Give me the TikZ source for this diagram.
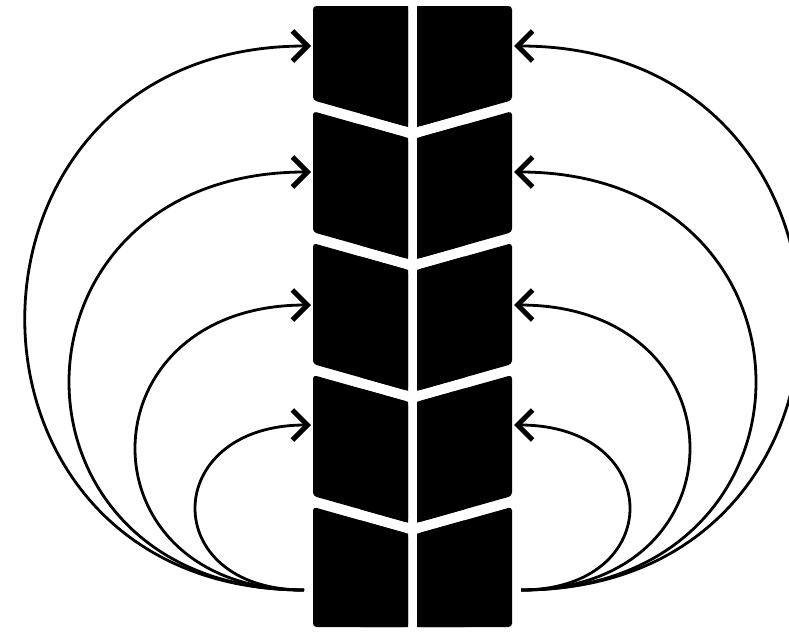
\documentclass[tikz,border=0pt]{standalone}
\usetikzlibrary{arrows.meta}
\tikzset{
  treadblock/.style={fill=black, rounded corners=3.5pt},
  treadsharp/.style={fill=black},
  flowarrow/.style={line width=2.8pt, -{Straight Barb[length=15pt,width=30pt,line width=5pt]}}
}
\begin{document}
\begin{tikzpicture}[x=1pt,y=-1pt]
\useasboundingbox (0,0) rectangle (789,632);
\clip (0,0) rectangle (789,632);
% tread blocks
\foreach \ta/\tb/\ba/\bb in {6/6/100.25/127, 111.25/138/232.15/258.9, 243.15/269.9/364.05/390.8, 375.05/401.8/495.95/522.7, 506.95/533.7/627/627} {
  \pgfmathsetmacro{\tm}{(\ta+\tb)/2}
  \pgfmathsetmacro{\bm}{(\ba+\bb)/2}
  \fill[treadblock] (313,\ta) -- (408,\tb) -- (408,\bb) -- (313,\ba) -- cycle;
  \fill[treadblock] (417,\tb) -- (512,\ta) -- (512,\ba) -- (417,\bb) -- cycle;
  \fill[treadsharp] (360.5,\tm) -- (408,\tb) -- (408,\bb) -- (360.5,\bm) -- cycle;
  \fill[treadsharp] (417,\tb) -- (464.5,\tm) -- (464.5,\bm) -- (417,\bb) -- cycle;
}
% anchor points
\coordinate (L0) at (304,590);
\coordinate (R0) at (521,590);
\coordinate (L1) at (311,46);
\coordinate (L2) at (311,172);
\coordinate (L3) at (311,305);
\coordinate (L4) at (311,425);
\coordinate (R1) at (514,46);
\coordinate (R2) at (514,172);
\coordinate (R3) at (514,305);
\coordinate (R4) at (514,425);
% left arrows
\draw[flowarrow] (L0) .. controls +(-374,0) and +(-378,0) .. (L1);
\draw[flowarrow] (L0) .. controls +(-315,0) and +(-319,0) .. (L2);
\draw[flowarrow] (L0) .. controls +(-227,0) and +(-231,0) .. (L3);
\draw[flowarrow] (L0) .. controls +(-147,0) and +(-151,0) .. (L4);
% right arrows
\draw[flowarrow] (R0) .. controls +(374,0) and +(378,0) .. (R1);
\draw[flowarrow] (R0) .. controls +(315,0) and +(319,0) .. (R2);
\draw[flowarrow] (R0) .. controls +(227,0) and +(231,0) .. (R3);
\draw[flowarrow] (R0) .. controls +(147,0) and +(151,0) .. (R4);
\end{tikzpicture}
\end{document}
